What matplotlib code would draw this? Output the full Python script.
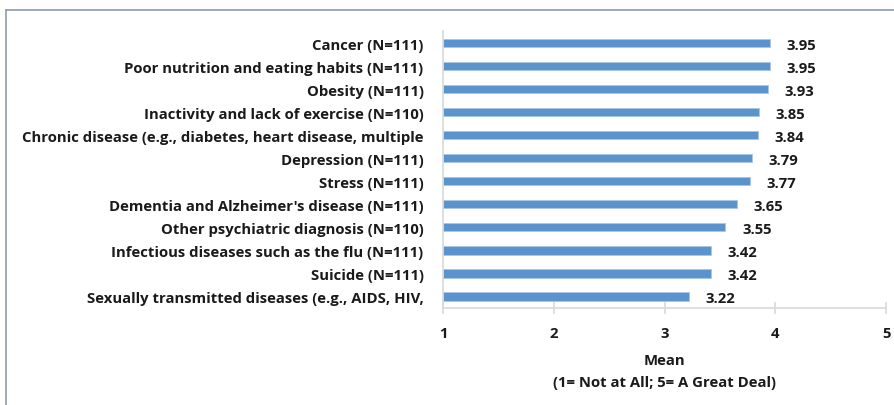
import matplotlib.pyplot as plt
from matplotlib.lines import Line2D

labels = [
    "Cancer (N=111)",
    "Poor nutrition and eating habits (N=111)",
    "Obesity (N=111)",
    "Inactivity and lack of exercise (N=110)",
    "Chronic disease (e.g., diabetes, heart disease, multiple",
    "Depression (N=111)",
    "Stress (N=111)",
    "Dementia and Alzheimer's disease (N=111)",
    "Other psychiatric diagnosis (N=110)",
    "Infectious diseases such as the flu (N=111)",
    "Suicide (N=111)",
    "Sexually transmitted diseases (e.g., AIDS, HIV,",
]
means = [3.95, 3.95, 3.93, 3.85, 3.84, 3.79, 3.77, 3.65, 3.55, 3.42, 3.42, 3.22]
xticks = [1, 2, 3, 4, 5]

plt.rcParams['font.family'] = ['Open Sans', 'DejaVu Sans']
plt.rcParams['font.weight'] = 'bold'
fs = 10.7

fig = plt.figure(figsize=(8.95, 4.06), dpi=100)
ax = fig.add_axes([0.495, 0.239, 0.495, 0.681])

y = list(range(len(labels)))
widths = [m - 1 for m in means]
ax.barh(y, widths, left=1, height=0.36, color='#5b93cc',
        edgecolor='#a9c6e6', linewidth=0.6)
for yi, m in zip(y, means):
    ax.text(m + 0.15, yi + 0.08, f"{m:.2f}", va='center', ha='left',
            fontsize=fs, fontweight='bold', color='#1a1a1a')

ax.set_xlim(1, 5)
ax.set_ylim(len(labels) - 0.5, -0.5)
ax.set_yticks(y)
ax.set_yticklabels(labels, fontsize=fs, fontweight='bold', color='#1a1a1a')
ax.set_xticks(xticks)
ax.set_xticklabels([str(t) for t in xticks], fontsize=fs,
                   fontweight='bold', color='#1a1a1a')
ax.tick_params(axis='y', length=0, pad=14)
ax.tick_params(axis='x', direction='inout', length=8, color='#d9d9d9',
               width=1.2, pad=9)
for s in ['top', 'right']:
    ax.spines[s].set_visible(False)
for s in ['left', 'bottom']:
    ax.spines[s].set_color('#d9d9d9')
    ax.spines[s].set_linewidth(1.2)
ax.set_xlabel("Mean\n(1= Not at All; 5= A Great Deal)", fontsize=fs,
              fontweight='bold', color='#1a1a1a', labelpad=9,
              linespacing=1.75)

# outer frame (top and left edges visible)
fig.add_artist(Line2D([0.0067, 1.0], [0.973, 0.973], transform=fig.transFigure,
                      color='#8c9bb0', linewidth=1.2))
fig.add_artist(Line2D([0.0067, 0.0067], [0.0, 0.973], transform=fig.transFigure,
                      color='#8c9bb0', linewidth=1.2))

fig.savefig('out.png', dpi=100)
